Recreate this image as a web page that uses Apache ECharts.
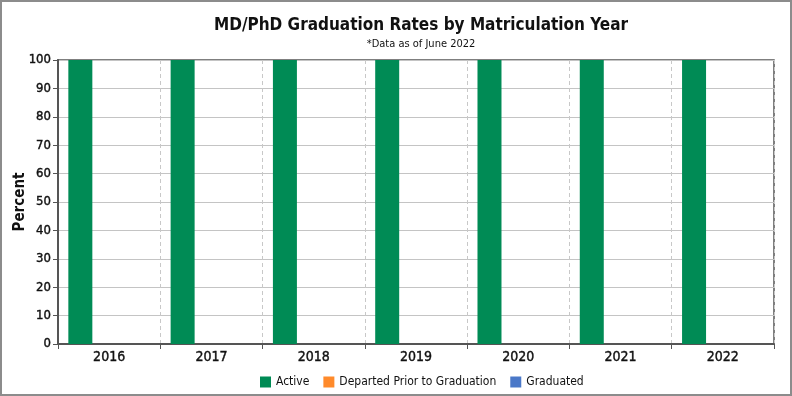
<!DOCTYPE html>
<html>
<head>
<meta charset="utf-8">
<script src="https://cdn.jsdelivr.net/npm/echarts@6/dist/echarts.min.js"></script>
<style>
  html, body { margin: 0; padding: 0; background: #fff; }
  #main { width: 792px; height: 396px; }
</style>
</head>
<body>
<div id="main"></div>
<script>
var years = ['2016', '2017', '2018', '2019', '2020', '2021', '2022']
var active = [100, 100, 100, 100, 100, 100, 100]
var departed = [0, 0, 0, 0, 0, 0, 0]
var graduated = [0, 0, 0, 0, 0, 0, 0]

var font = "'DejaVu Sans Condensed', 'Noto Sans', sans-serif"

var chart = echarts.init(document.getElementById('main'))
// slight outline to mimic the medium weight of the original labels
var labelStyle = { fontFamily: font, fontSize: 13, color: '#111', textBorderColor: '#111', textBorderWidth: 0.4 }

var option = {
  animation: false,
  textStyle: { fontFamily: font },
  graphic: [{
    type: 'rect',
    shape: { x: 1, y: 1, width: 790, height: 394 },
    style: { fill: 'none', stroke: '#8c8c8c', lineWidth: 2 },
    silent: true
  }],
  title: {
    text: 'MD/PhD Graduation Rates by Matriculation Year',
    subtext: '*Data as of June 2022',
    left: 416,
    textAlign: 'center',
    top: 12,
    itemGap: 5,
    textStyle: { fontFamily: font, fontSize: 17, fontWeight: 'bold', color: '#111' },
    subtextStyle: { fontFamily: font, fontSize: 11, color: '#111' }
  },
  legend: {
    bottom: 3,
    left: 255,
    itemWidth: 11,
    itemHeight: 11,
    itemGap: 14,
    icon: 'rect',
    textStyle: { fontFamily: font, fontSize: 12, color: '#111' },
    data: ['Active', 'Departed Prior to Graduation', 'Graduated']
  },
  grid: {
    left: 58, right: 18, top: 60, bottom: 52,
    outerBoundsMode: 'none',
    containLabel: false,
    show: true, borderColor: '#555', borderWidth: 1.5
  },
  xAxis: {
    type: 'category',
    data: years,
    axisLine: { lineStyle: { color: '#555', width: 2 } },
    axisTick: { show: true, length: 5, lineStyle: { color: '#555' } },
    splitLine: { show: true, lineStyle: { color: '#c8c8c8', type: [4, 3] } },
    axisLabel: Object.assign({}, labelStyle, { fontSize: 14, margin: 6 })
  },
  yAxis: {
    type: 'value',
    min: 0,
    max: 100,
    interval: 10,
    name: 'Percent',
    nameLocation: 'middle',
    nameGap: 30,
    nameMoveOverlap: false,
    nameTextStyle: { fontFamily: font, fontSize: 15, fontWeight: 'bold', color: '#111' },
    axisLine: { show: true, lineStyle: { color: '#555', width: 2 } },
    axisTick: { show: true, length: 5, lineStyle: { color: '#555' } },
    splitLine: { lineStyle: { color: '#c4c4c4' } },
    axisLabel: Object.assign({ margin: 7 }, labelStyle)
  },
  series: [
    { name: 'Active', type: 'bar', data: active, barWidth: 24, barGap: '20%', itemStyle: { color: '#008b55' } },
    { name: 'Departed Prior to Graduation', type: 'bar', data: departed, barWidth: 24, itemStyle: { color: '#ff8a2b' } },
    { name: 'Graduated', type: 'bar', data: graduated, barWidth: 24, itemStyle: { color: '#4a78c8' } }
  ]
}
chart.setOption(option)
</script>
</body>
</html>
